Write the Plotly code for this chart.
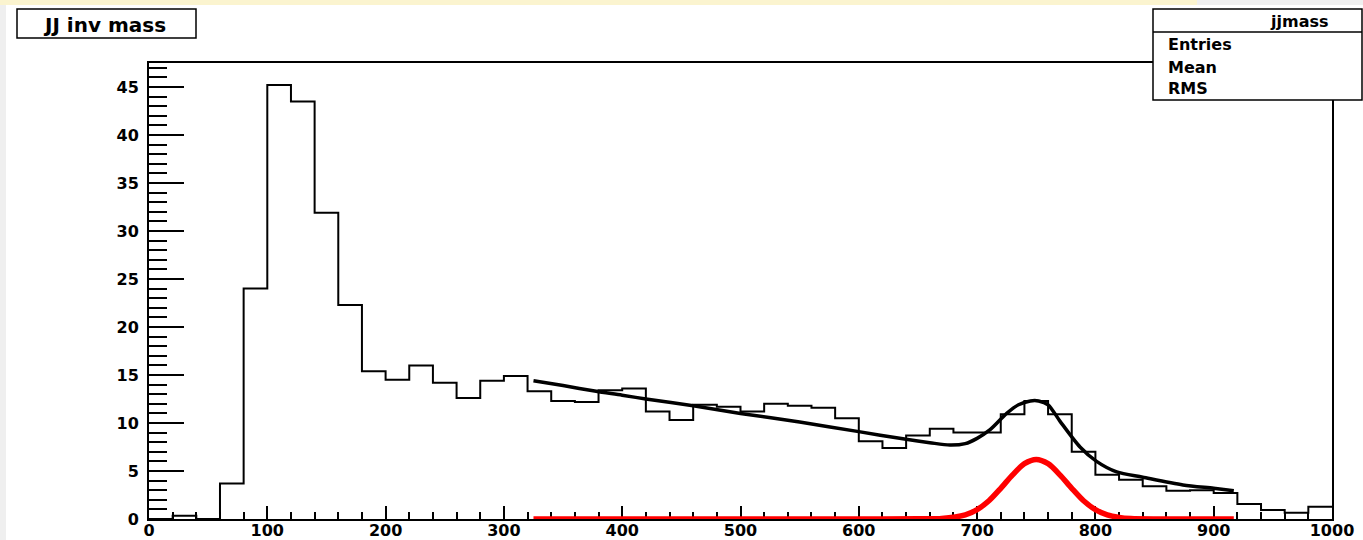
import plotly.graph_objects as go

# ---------------- data ----------------
bin_width = 20
x_min, x_max = 0, 1000
counts = [0.0, 0.35, 0.0, 3.7, 24.0, 45.2, 43.5, 31.9, 22.3, 15.4,
          14.5, 16.0, 14.2, 12.6, 14.4, 14.9, 13.3, 12.3, 12.2, 13.4,
          13.6, 11.2, 10.3, 11.9, 11.7, 11.2, 12.0, 11.8, 11.6, 10.5,
          8.1, 7.4, 8.7, 9.4, 9.0, 9.0, 10.9, 12.3, 10.9, 7.0,
          4.6, 4.1, 3.4, 2.95, 3.0, 2.7, 1.56, 0.94, 0.66, 1.28]

fit_x = [325, 350, 378, 400, 420, 460, 500, 550, 600, 640, 660, 677, 690, 700,
         711, 725, 735, 745, 752, 760, 770, 787, 801, 818, 840, 874, 900, 917]
fit_y = [14.4, 13.9, 13.3, 12.9, 12.5, 11.8, 11.0, 10.1, 9.1, 8.3, 7.95, 7.7, 7.85, 8.4,
         9.3, 11.0, 11.9, 12.3, 12.3, 11.9, 10.2, 7.5, 6.0, 4.9, 4.35, 3.55, 3.2, 2.95]

sig_x = [325, 400, 500, 600, 650, 670, 690, 700, 710, 720, 730, 740, 750,
         760, 770, 780, 790, 800, 810, 820, 830, 850, 917]
sig_y = [0, 0, 0, 0, 0.02, 0.05, 0.43, 0.98, 1.9, 3.2, 4.6, 5.76, 6.2,
         5.76, 4.6, 3.2, 1.9, 0.98, 0.43, 0.17, 0.05, 0.0, 0.0]

y_ticks = [0, 5, 10, 15, 20, 25, 30, 35, 40, 45]
x_ticks = [0, 100, 200, 300, 400, 500, 600, 700, 800, 900, 1000]
title_text = "JJ inv mass"
stats_title = "jjmass"
stats_rows = ["Entries", "Mean", "RMS"]

# ---------------- layout geometry ----------------
W, H = 1363, 540
L, R, T, B = 149, 1332, 63, 519

def px(x):
    return (x - L) / (R - L)

def py(y):
    return (B - y) / (B - T)

FONT = "DejaVu Sans, Liberation Sans, Arial, sans-serif"

# histogram outline
edges = [x_min + i * bin_width for i in range(len(counts))] + [x_max]
hist_y = counts + [counts[-1]]

fig = go.Figure()
fig.add_trace(go.Scatter(x=edges, y=hist_y, mode="lines", line_shape="hv",
                         line=dict(color="black", width=2), hoverinfo="skip",
                         showlegend=False))
fig.add_trace(go.Scatter(x=sig_x, y=sig_y, mode="lines",
                         line=dict(color="#ff0000", width=5.5, shape="spline", smoothing=0.8),
                         showlegend=False))
fig.add_trace(go.Scatter(x=fit_x, y=fit_y, mode="lines",
                         line=dict(color="black", width=3.5, shape="spline", smoothing=0.8),
                         showlegend=False))

shapes = []
# screenshot edges
shapes.append(dict(type="rect", xref="paper", yref="paper", x0=px(0), x1=px(6), y0=py(540), y1=py(0),
                   fillcolor="#efefef", line=dict(width=0), layer="above"))
shapes.append(dict(type="rect", xref="paper", yref="paper", x0=px(0), x1=px(1197), y0=py(5), y1=py(0),
                   fillcolor="#fbf4cf", line=dict(width=0), layer="above"))
shapes.append(dict(type="rect", xref="paper", yref="paper", x0=px(1197), x1=px(1363), y0=py(5), y1=py(0),
                   fillcolor="#efefef", line=dict(width=0), layer="above"))
# title box
shapes.append(dict(type="rect", xref="paper", yref="paper", x0=px(17), x1=px(196), y0=py(38), y1=py(9),
                   fillcolor="white", line=dict(color="black", width=1.5), layer="above"))
# stats box
shapes.append(dict(type="rect", xref="paper", yref="paper", x0=px(1153), x1=px(1362), y0=py(100), y1=py(9),
                   fillcolor="white", line=dict(color="black", width=1.5), layer="above"))
shapes.append(dict(type="line", xref="paper", yref="paper", x0=px(1153), x1=px(1362), y0=py(32), y1=py(32),
                   line=dict(color="black", width=1.5), layer="above"))

annotations = []
annotations.append(dict(xref="paper", yref="paper", x=px(104), y=py(25), text="<b>%s</b>" % title_text,
                        showarrow=False, font=dict(family=FONT, size=20, color="black"),
                        xanchor="center", yanchor="middle"))
annotations.append(dict(xref="paper", yref="paper", x=px(1299), y=py(21), text="<b>%s</b>" % stats_title,
                        showarrow=False, font=dict(family=FONT, size=16, color="black"),
                        xanchor="center", yanchor="middle"))
for i, row in enumerate(stats_rows):
    annotations.append(dict(xref="paper", yref="paper", x=px(1166), y=py(45 + 22 * i), text="<b>%s</b>" % row,
                            showarrow=False, font=dict(family=FONT, size=16, color="black"),
                            xanchor="left", yanchor="middle"))

fig.update_layout(
    template="none",
    width=W, height=H,
    margin=dict(l=L, r=W - R, t=T, b=H - B, pad=0, autoexpand=False),
    paper_bgcolor="white", plot_bgcolor="white",
    showlegend=False,
    shapes=shapes, annotations=annotations,
    xaxis=dict(range=[x_min, x_max], tickvals=x_ticks, ticktext=[str(v) for v in x_ticks],
               ticks="inside", ticklen=13, tickwidth=1.5, tickcolor="black",
               minor=dict(ticks="inside", dtick=20, tick0=0, ticklen=7, tickwidth=1.5, tickcolor="black"),
               showline=True, linecolor="black", linewidth=2, mirror=True,
               showgrid=False, zeroline=False, layer="below traces", automargin=False,
               tickfont=dict(family=FONT, size=16, color="black", weight="bold"),
               ticklabelstandoff=-4),
    yaxis=dict(range=[0, 47.5], tickvals=y_ticks, ticktext=[str(v) for v in y_ticks],
               ticks="inside", ticklen=35, tickwidth=1.5, tickcolor="black",
               minor=dict(ticks="inside", dtick=1, tick0=0, ticklen=18, tickwidth=1.5, tickcolor="black"),
               showline=True, linecolor="black", linewidth=2, mirror=True,
               showgrid=False, zeroline=False, layer="below traces", automargin=False,
               tickfont=dict(family=FONT, size=16, color="black", weight="bold"),
               ticklabelstandoff=5),
)

fig.write_html("out.html")
